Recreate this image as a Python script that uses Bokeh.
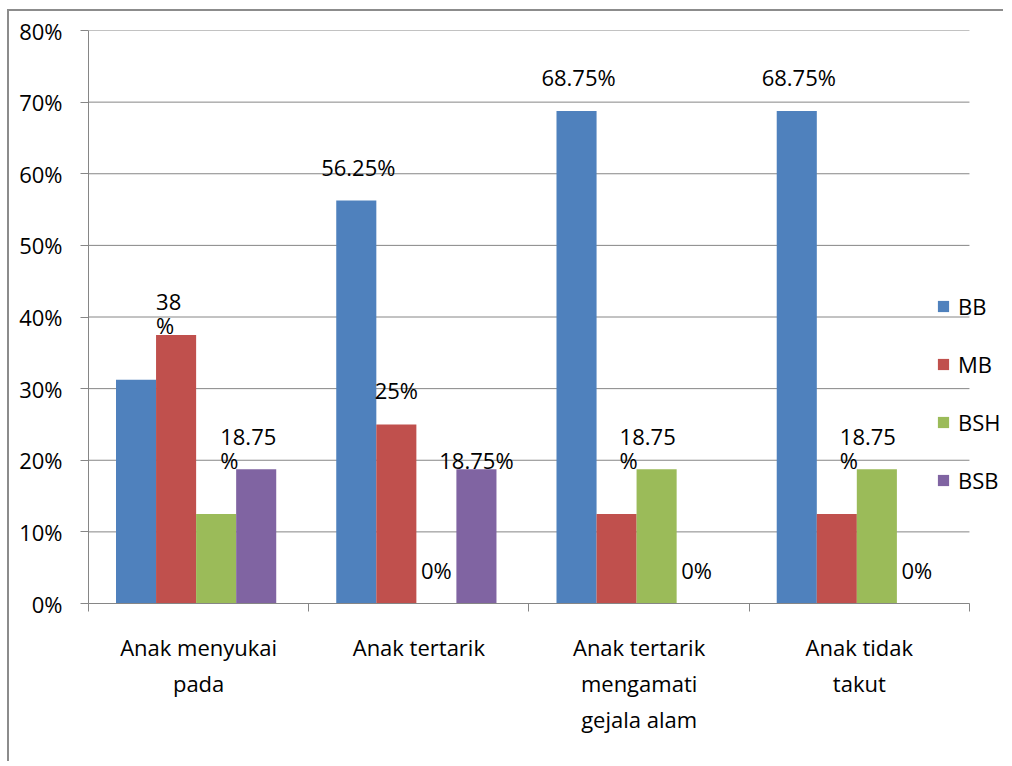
from bokeh.plotting import figure
from bokeh.models import Range1d, FixedTicker, ColumnDataSource, Legend, LegendItem
from bokeh.transform import dodge
from bokeh.core.properties import value
from bokeh.embed import file_html
from bokeh.resources import INLINE

# ---- data ----
categories = ["Anak menyukai\npada", "Anak tertarik", "Anak tertarik\nmengamati\ngejala alam", "Anak tidak\ntakut"]
series_names = ["BB", "MB", "BSH", "BSB"]
bb = [31.25, 56.25, 68.75, 68.75]
mb = [37.5, 25.0, 12.5, 12.5]
bsh = [12.5, 0.0, 18.75, 18.75]
bsb = [18.75, 18.75, 0.0, 0.0]
y_ticks = [0, 10, 20, 30, 40, 50, 60, 70, 80]
y_tick_labels = ["0%", "10%", "20%", "30%", "40%", "50%", "60%", "70%", "80%"]

# data labels shown in the chart: (category index, series index, text)
label_cat = [0, 0, 1, 1, 1, 1, 2, 2, 2, 3, 3, 3]
label_ser = [1, 3, 0, 1, 2, 3, 0, 2, 3, 0, 2, 3]
label_txt = ["38\n%", "18.75\n%", "56.25%", "25%", "0%", "18.75%",
             "68.75%", "18.75\n%", "0%", "68.75%", "18.75\n%", "0%"]

# ---- styles ----
colors = ["#4F81BD", "#C0504D", "#9BBB59", "#8064A2"]
offsets = [-0.2841, -0.1023, 0.0795, 0.2614]
bar_w = 0.182
label_dx = [-20, -36, 2, 0, 0, 0, 2, -37, 0, 2, -37, 0]
label_dy = [-22, -21, -34, -34, -34, -9, -34, -21, -34, -34, -21, -34]
FONT = "Open Sans"
FS = "22px"
GRID = "#868686"
n_cat = len(categories)
x_end = n_cat + 36 / 220  # extra room on the right for the legend

all_series = [bb, mb, bsh, bsb]
centers = [i + 0.5 for i in range(n_cat)]
src = ColumnDataSource(dict(x=centers, BB=bb, MB=mb, BSH=bsh, BSB=bsb))

p = figure(width=996, height=752, x_range=Range1d(0, x_end), y_range=Range1d(0, 80),
           output_backend="svg", toolbar_location=None,
           min_border_left=79, min_border_right=0, min_border_top=19, min_border_bottom=160)
p.styles = {"border-top": "2px solid #8c8c8c", "border-left": "2px solid #8c8c8c",
            "margin-top": "9px", "margin-left": "7px"}
p.outline_line_color = None
p.background_fill_color = "white"
p.border_fill_color = "white"

# horizontal gridlines spanning only the category area
p.segment(x0=[0] * len(y_ticks), x1=[n_cat] * len(y_ticks), y0=y_ticks, y1=y_ticks,
          line_color=GRID, line_width=1)

renderers = []
for name, off, col in zip(series_names, offsets, colors):
    r = p.vbar(x=dodge("x", off), top=name, width=bar_w, source=src,
               fill_color=col, line_color=None)
    renderers.append(r)

# data labels
lx = [centers[c] + offsets[s] for c, s in zip(label_cat, label_ser)]
ly = [all_series[s][c] for c, s in zip(label_cat, label_ser)]
lalign = ["left" if "\n" in t else "center" for t in label_txt]
lsrc = ColumnDataSource(dict(x=lx, y=ly, text=label_txt, dx=label_dx, dy=label_dy, align=lalign))
p.text(x="x", y="y", text="text", x_offset="dx", y_offset="dy", text_align="align",
       text_baseline="middle", source=lsrc, text_font=value(FONT), text_font_size=FS,
       text_color="black", text_line_height=0.8)

# axes
xa = p.xaxis[0]
xa.bounds = (0, n_cat)
xa.ticker = FixedTicker(ticks=centers, minor_ticks=list(range(n_cat + 1)))
xa.major_label_overrides = {c: lab for c, lab in zip(centers, categories)}
xa.major_tick_line_color = None
xa.minor_tick_out = 8
xa.minor_tick_in = 0
xa.minor_tick_line_color = GRID
xa.axis_line_color = GRID
xa.major_label_standoff = 20
xa.major_label_text_font = FONT
xa.major_label_text_font_size = FS
xa.major_label_text_color = "black"
xa.major_label_text_line_height = 1.2

ya = p.yaxis[0]
ya.ticker = FixedTicker(ticks=y_ticks, minor_ticks=[])
ya.major_label_overrides = {t: l for t, l in zip(y_ticks, y_tick_labels)}
ya.major_tick_out = 8
ya.major_tick_in = 0
ya.major_tick_line_color = GRID
ya.axis_line_color = GRID
ya.major_label_standoff = 18
ya.major_label_text_font = FONT
ya.major_label_text_font_size = FS
ya.major_label_text_color = "black"

p.xgrid.visible = False
p.ygrid.visible = False

legend = Legend(items=[LegendItem(label=n, renderers=[r]) for n, r in zip(series_names, renderers)],
                location=(848, 108), orientation="vertical")
legend.glyph_width = 14
legend.glyph_height = 14
legend.label_standoff = 8
legend.spacing = 28
legend.padding = 0
legend.margin = 0
legend.border_line_color = None
legend.background_fill_alpha = 0
legend.label_text_font = FONT
legend.label_text_font_size = FS
legend.label_text_color = "black"
p.add_layout(legend, "center")

open("out.html", "w").write(file_html(p, INLINE))
